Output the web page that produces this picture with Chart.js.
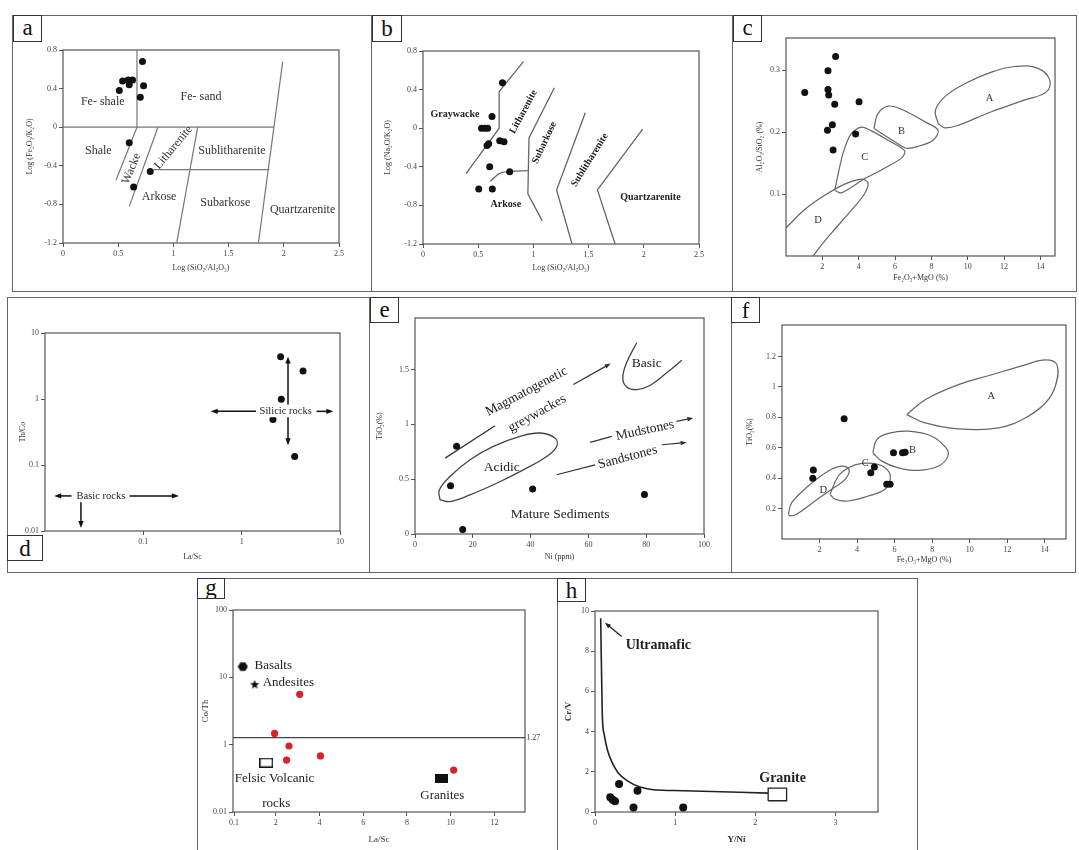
<!DOCTYPE html>
<html><head><meta charset="utf-8">
<script src="https://cdn.jsdelivr.net/npm/chart.js@4.4.0/dist/chart.umd.min.js"></script>
<style>
body{margin:0;background:#fff;width:1079px;height:850px;overflow:hidden;position:relative;font-family:'Liberation Serif',serif}
.frame{position:absolute;border:1.5px solid #666;box-sizing:border-box}
.tag{position:absolute;border:1.5px solid #333;background:#fff;box-sizing:border-box;font-size:23px;text-align:center;color:#111;overflow:hidden;z-index:5}
canvas{position:absolute;z-index:2}
</style></head><body>
<div class="frame" style="left:12px;top:15px;width:360px;height:277px"></div>
<div class="frame" style="left:371px;top:15px;width:362px;height:277px"></div>
<div class="frame" style="left:732px;top:15px;width:345px;height:277px"></div>
<div class="frame" style="left:7px;top:297px;width:363px;height:276px"></div>
<div class="frame" style="left:369px;top:297px;width:363px;height:276px"></div>
<div class="frame" style="left:731px;top:297px;width:345px;height:276px"></div>
<div class="frame" style="left:197px;top:578px;width:361px;height:282px"></div>
<div class="frame" style="left:557px;top:578px;width:361px;height:282px"></div>
<div class="tag" style="left:13px;top:15px;width:29px;height:27px;line-height:24px">a</div>
<div class="tag" style="left:372px;top:15px;width:30px;height:27px;line-height:26px">b</div>
<div class="tag" style="left:733px;top:15px;width:29px;height:27px;line-height:24px">c</div>
<div class="tag" style="left:7px;top:535px;width:36px;height:26px;line-height:25px">d</div>
<div class="tag" style="left:370px;top:297px;width:29px;height:26px;line-height:23px">e</div>
<div class="tag" style="left:731px;top:297px;width:29px;height:26px;line-height:25px">f</div>
<div class="tag" style="left:197px;top:578px;width:28px;height:21px;line-height:17px">g</div>
<div class="tag" style="left:557px;top:578px;width:29px;height:24px;line-height:23px">h</div>
<script>
// ---------------- DATA ----------------
// a: Log(SiO2/Al2O3) vs Log(Fe2O3/K2O)
const aSamples = [[0.72,0.68],[0.54,0.48],[0.59,0.49],[0.63,0.49],[0.60,0.44],[0.51,0.38],[0.73,0.43],[0.70,0.31],[0.60,-0.16],[0.79,-0.46],[0.64,-0.62]];
const aBoundaries = [
  [[0,0],[1.91,0]],
  [[0.67,0],[0.67,0.8]],
  [[0.67,0],[0.48,-0.55]],
  [[0.86,0],[0.60,-0.82]],
  [[1.22,0],[1.03,-1.2]],
  [[0.82,-0.44],[1.87,-0.44]],
  [[1.99,0.68],[1.77,-1.2]]
];
const aLabels = [["Fe- shale",0.36,0.26,0],["Fe- sand",1.25,0.31,0],["Shale",0.32,-0.25,0],["Wacke",0.62,-0.43,-68],["Litharenite",1.0,-0.21,-50],["Sublitharenite",1.53,-0.25,0],["Arkose",0.87,-0.72,0],["Subarkose",1.47,-0.78,0],["Quartzarenite",2.17,-0.86,0]];
const aXTicks = [0,0.5,1,1.5,2,2.5], aYTicks = [-1.2,-0.8,-0.4,0,0.4,0.8];

// b: Log(SiO2/Al2O3) vs Log(Na2O/K2O)
const bSamples = [[0.72,0.47],[0.625,0.12],[0.53,0],[0.56,0],[0.585,0],[0.595,-0.16],[0.58,-0.18],[0.695,-0.13],[0.734,-0.14],[0.604,-0.40],[0.785,-0.45],[0.505,-0.63],[0.628,-0.63]];
const bBoundaries = [
  [[0.39,-0.47],[0.69,0],[0.69,0.38],[0.91,0.69]],
  [[1.19,0.42],[0.96,-0.1],[0.95,-0.68],[1.08,-0.96]],
  [[1.47,0.16],[1.21,-0.64],[1.35,-1.2]],
  [[1.99,-0.01],[1.58,-0.64],[1.74,-1.2]]
];
const bArkoseCurve = [[0.61,-0.55],[0.69,-0.47],[0.77,-0.45],[0.95,-0.44]];
const bLabels = [["Graywacke",0.29,0.14,0],["Litharenite",0.91,0.17,-62],["Subarkose",1.1,-0.15,-65],["Sublitharenite",1.51,-0.33,-58],["Quartzarenite",2.06,-0.72,0],["Arkose",0.75,-0.79,0]];
const bXTicks = [0,0.5,1,1.5,2,2.5], bYTicks = [-1.2,-0.8,-0.4,0,0.4,0.8];

// c: Fe2O3+MgO vs Al2O3/SiO2
const cSamples = [[2.73,0.322],[2.31,0.299],[1.03,0.264],[2.31,0.269],[2.35,0.26],[2.68,0.245],[4.02,0.249],[2.55,0.212],[2.28,0.203],[3.83,0.197],[2.59,0.171]];
const cFieldA = [[8.37,0.214],[8.22,0.235],[8.73,0.257],[9.83,0.278],[11.3,0.297],[12.59,0.306],[13.87,0.303],[14.51,0.284],[14.33,0.265],[13.14,0.252],[11.3,0.233],[9.47,0.211],[8.73,0.207],[8.37,0.214]];
const cFieldB = [[4.84,0.206],[5.06,0.23],[5.61,0.242],[6.35,0.237],[7.63,0.217],[8.37,0.203],[8.09,0.187],[7.27,0.177],[6.62,0.174],[6.17,0.181],[4.84,0.206]];
const cFieldC = [[2.68,0.106],[3.14,0.166],[3.6,0.198],[4.15,0.208],[4.7,0.202],[5.61,0.187],[6.53,0.17],[6.35,0.158],[5.25,0.139],[4.33,0.125],[3.05,0.102],[2.68,0.106]];
const cFieldD = [[-0.62,0.028],[0.02,0.046],[1.03,0.075],[2.13,0.098],[3.23,0.116],[4.15,0.124],[4.51,0.118],[4.33,0.101],[3.6,0.074],[2.5,0.037],[1.67,0.007],[1.3,-0.01]];
const cLabels = [["A",11.2,0.254,0],["B",6.35,0.202,0],["C",4.33,0.159,0],["D",1.76,0.057,0]];
const cXTicks = [2,4,6,8,10,12,14], cYTicks = [0.1,0.2,0.3];

// d: La/Sc vs Th/Co (log-log)
const dSamples = [[2.49,4.37],[4.21,2.65],[2.53,0.99],[2.08,0.49],[3.46,0.134]];
const dArrows = [[2.96,0.65,2.96,4.4],[2.96,0.65,2.96,0.2],[1.4,0.65,0.485,0.65],[5.77,0.65,8.55,0.65],[0.0186,0.034,0.0124,0.034],[0.0724,0.034,0.23,0.034],[0.0232,0.0298,0.0232,0.0111]];
const dLabels = [["Silicic rocks",2.8,0.66,0],["Basic rocks",0.037,0.034,0]];
const dXTicks = [0.1,1,10], dYTicks = [0.01,0.1,1,10];

// e: Ni vs TiO2
const eSamples = [[14.4,0.80],[12.3,0.44],[40.7,0.41],[79.4,0.36],[16.5,0.04]];
const eAcidic = [[8.65,0.311],[8.42,0.402],[12.11,0.524],[19.03,0.677],[27.1,0.799],[36.33,0.89],[43.25,0.921],[48.44,0.875],[49.02,0.799],[45.56,0.707],[37.49,0.585],[28.26,0.463],[19.03,0.357],[12.11,0.296],[8.65,0.311]];
const eBasic = [[76.7,1.744],[73.2,1.561],[71.9,1.424],[73.2,1.341],[76.7,1.317],[81.3,1.354],[87.1,1.47],[92.3,1.585]];
const eSegments = [[10.4,0.692,27.7,0.988],[60.6,0.835,68.1,0.89],[49.0,0.54,62.3,0.631]];
const eArrows = [[54.8,1.363,67.7,1.555],[90.5,1.027,96.3,1.058],[85.4,0.814,94.0,0.835]];
const eLabels = [["Magmatogenetic",38.6,1.30,-28],["greywackes",42.3,1.10,-29],["Basic",80.2,1.555,0],["Mudstones",79.6,0.945,-12],["Sandstones",73.6,0.70,-15],["Acidic",30.0,0.61,0],["Mature Sediments",50.2,0.174,0]];
const eXTicks = [0,20,40,60,80,100], eYTicks = [0,0.5,1,1.5];

// f: Fe2O3+MgO vs TiO2
const fSamples = [[3.31,0.79],[1.67,0.453],[1.64,0.399],[5.94,0.567],[6.42,0.567],[6.56,0.571],[4.92,0.473],[4.73,0.436],[5.58,0.36],[5.76,0.36]];
const fFieldA = [[6.65,0.818],[7.63,0.916],[9.4,1.015],[11.18,1.08],[12.96,1.145],[14.03,1.178],[14.65,1.145],[14.56,1.004],[14.03,0.894],[12.96,0.796],[11.54,0.731],[9.4,0.724],[7.63,0.763],[6.65,0.818]];
const fFieldB = [[4.84,0.567],[5.05,0.654],[5.67,0.694],[6.74,0.709],[7.98,0.676],[8.73,0.6],[8.84,0.545],[8.34,0.48],[7.27,0.451],[6.2,0.468],[5.32,0.512],[4.84,0.567]];
const fFieldC = [[2.56,0.294],[3.0,0.414],[3.54,0.469],[4.25,0.497],[5.14,0.49],[5.67,0.447],[5.76,0.392],[5.49,0.327],[4.6,0.283],[3.54,0.25],[2.83,0.261],[2.56,0.294]];
const fFieldD = [[0.34,0.163],[0.52,0.239],[1.4,0.348],[2.47,0.447],[3.18,0.479],[3.57,0.457],[3.36,0.392],[2.65,0.327],[1.76,0.25],[0.78,0.163],[0.43,0.152],[0.34,0.163]];
const fLabels = [["A",11.15,0.938,0],["B",6.95,0.584,0],["C",4.43,0.497,0],["D",2.2,0.32,0]];
const fXTicks = [2,4,6,8,10,12,14], fYTicks = [0.2,0.4,0.6,0.8,1,1.2];

// g: La/Sc vs Co/Th
const gSamples = [[3.10,5.6],[1.95,1.47],[2.61,0.955],[4.05,0.68],[2.50,0.59],[10.14,0.42]];
const gBasalts = [[0.50,14.4]], gAndesites = [[1.04,7.9]], gFelsic = [[1.57,0.54]], gGranites = [[9.59,0.31]];
const gRefLine = [[0.05,1.27],[13.4,1.27]];
const gLabels = [["Basalts",1.89,15.2,0],["Andesites",2.58,8.4,0],["Felsic Volcanic",1.95,0.31,0],["rocks",2.03,0.134,0],["Granites",9.62,0.175,0]];
const gRefLabel = [["1.27",13.78,1.27,0]];
const gXTicks = [0.1,2,4,6,8,10,12], gYTicks = [0.1,1,10,100], gYTickLabels = ["0.01","1","10","100"];

// h: Y/Ni vs Cr/V
const hSamples = [[0.30,1.39],[0.53,1.06],[0.19,0.73],[0.22,0.61],[0.25,0.53],[0.48,0.23],[1.10,0.23]];
const hCurve = [[0.071,9.64],[0.091,4.83],[0.116,3.84],[0.154,3.10],[0.207,2.52],[0.29,1.94],[0.415,1.52],[0.56,1.24],[0.726,1.11],[1.10,1.06],[2.158,0.94]];
const hGranite = [[2.16,0.56],[2.39,0.56],[2.39,1.19],[2.16,1.19],[2.16,0.56]];
const hArrows = [[0.332,8.73,0.124,9.42]];
const hLabels = [["Ultramafic",0.79,8.31,0],["Granite",2.34,1.69,0]];
const hXTicks = [0,1,2,3], hYTicks = [0,2,4,6,8,10];

// ---------------- RENDERING ----------------
Chart.defaults.font.family = "'Liberation Serif','DejaVu Serif',serif";
Chart.defaults.color = '#444';

function drawArrow(ctx,x1,y1,x2,y2,head){
  const a=Math.atan2(y2-y1,x2-x1);
  let ex=x2, ey=y2;
  if(head){ ex=x2-head*0.8*Math.cos(a); ey=y2-head*0.8*Math.sin(a); }
  ctx.beginPath(); ctx.moveTo(x1,y1); ctx.lineTo(ex,ey); ctx.stroke();
  if(!head) return;
  const W=head*0.38;
  ctx.beginPath(); ctx.moveTo(x2,y2);
  ctx.lineTo(x2-head*Math.cos(a)+W*Math.sin(a), y2-head*Math.sin(a)-W*Math.cos(a));
  ctx.lineTo(x2-head*Math.cos(a)-W*Math.sin(a), y2-head*Math.sin(a)+W*Math.cos(a));
  ctx.closePath(); ctx.fill();
}

function makeAnnot(spec){
  return {
    id:'annot',
    beforeDatasetsDraw(chart){
      const {ctx, chartArea:a} = chart;
      ctx.save(); ctx.strokeStyle='#555'; ctx.lineWidth=1.2;
      ctx.strokeRect(a.left, a.top, a.right-a.left, a.bottom-a.top); ctx.restore();
    },
    afterDatasetsDraw(chart){
      const {ctx, scales:{x,y}} = chart;
      const px=v=>x.getPixelForValue(v), py=v=>y.getPixelForValue(v);
      ctx.save();
      const col = spec.arrowColor||'#222';
      ctx.strokeStyle=col; ctx.fillStyle=col; ctx.lineWidth=spec.arrowWidth||1.2;
      (spec.segments||[]).forEach(s=>drawArrow(ctx,px(s[0]),py(s[1]),px(s[2]),py(s[3]),0));
      (spec.arrows||[]).forEach(s=>drawArrow(ctx,px(s[0]),py(s[1]),px(s[2]),py(s[3]),spec.head||6));
      const drawLabels=(list,size,weight,color,bg)=>{
        ctx.font=`${weight} ${size}px 'Liberation Serif','DejaVu Serif',serif`;
        ctx.textAlign='center'; ctx.textBaseline='middle';
        list.forEach(l=>{
          ctx.save(); ctx.translate(px(l[1]),py(l[2])); ctx.rotate((l[3]||0)*Math.PI/180);
          if(bg){ const w=ctx.measureText(l[0]).width; ctx.fillStyle='#fff'; ctx.fillRect(-w/2-2,-size*0.6,w+4,size*1.2); }
          ctx.fillStyle=color; ctx.fillText(l[0],0,0); ctx.restore();
        });
      };
      if(spec.labels) drawLabels(spec.labels, spec.size||11, spec.weight||'normal', spec.color||'#222', spec.bg);
      if(spec.small) drawLabels(spec.small, 8, 'normal', '#444', false);
      ctx.restore();
    }
  };
}

function axis(s,size,horiz){
  return {
    type:s.type||'linear', min:s.min, max:s.max, position:horiz?'bottom':'left',
    afterFit(sc){ if(horiz) sc.height=size; else sc.width=size; },
    afterBuildTicks(sc){ sc.ticks=s.ticks.map(v=>({value:v})); },
    ticks:{autoSkip:false,maxRotation:0,padding:2,color:'#444',font:{size:8},
      callback:(v,i)=> s.labels ? s.labels[i] : String(+(+v).toFixed(3))},
    grid:{display:true,drawOnChartArea:false,drawTicks:true,tickLength:4,color:'#555',lineWidth:1},
    border:{display:false},
    title:{display:true,text:s.title,padding:0,color:'#333',font:{size:s.titleSize||8,weight:s.titleWeight||'normal'}}
  };
}

const toXY = arr => arr.map(p=>({x:p[0],y:p[1]}));
const pts = (arr,color,r) => ({data:toXY(arr),pointRadius:r||3.5,backgroundColor:color||'#111',borderWidth:0,pointHoverRadius:0});
const line = (arr,color,w,tension,mono) => ({data:toXY(arr),showLine:true,pointRadius:0,pointHoverRadius:0,borderColor:color,borderWidth:w,tension:tension||0,fill:false,cubicInterpolationMode:mono?'monotone':'default'});
const imgPts = (arr,img) => ({data:toXY(arr),pointStyle:img,pointRadius:5,borderWidth:0,pointHoverRadius:0});

function panel(g,sx,sy,datasets,spec){
  const cv=document.createElement('canvas');
  cv.width=g[2]; cv.height=g[3]; cv.style.left=g[0]+'px'; cv.style.top=g[1]+'px';
  document.body.appendChild(cv);
  new Chart(cv,{type:'scatter',data:{datasets},
    options:{responsive:false,animation:false,events:[],
      layout:{padding:{left:g[4],top:g[5],right:g[6],bottom:g[7]}},
      plugins:{legend:{display:false},tooltip:{enabled:false}},
      scales:{x:axis(sx,g[9],true),y:axis(sy,g[8],false)}},
    plugins:[makeAnnot(spec)]});
}

// marker images for panel g
function mk(w,h,fn){const c=document.createElement('canvas');c.width=w;c.height=h;fn(c.getContext('2d'),w,h);return c;}
const hexImg = mk(11,11,(x,w,h)=>{x.fillStyle='#111';x.beginPath();for(let i=0;i<6;i++){const a=i*Math.PI/3;x.lineTo(w/2+5*Math.cos(a),h/2+5*Math.sin(a));}x.closePath();x.fill();});
const starImg = mk(10,10,(x,w,h)=>{x.fillStyle='#111';x.beginPath();for(let i=0;i<10;i++){const r=i%2?2.1:4.8;const a=-Math.PI/2+i*Math.PI/5;x.lineTo(w/2+r*Math.cos(a),h/2+0.5+r*Math.sin(a));}x.closePath();x.fill();});
const openRect = mk(14,10,(x,w,h)=>{x.strokeStyle='#111';x.lineWidth=1.4;x.strokeRect(0.7,0.7,w-1.4,h-1.4);});
const fullRect = mk(13,9,(x,w,h)=>{x.fillStyle='#111';x.fillRect(0,0,w,h);});

const GL='#666', GD='#444';
// a
panel([12,15,359,276,13,35,32,18,38,30],
  {min:0,max:2.5,ticks:aXTicks,title:'Log (SiO\u2082/Al\u2082O\u2083)'},
  {min:-1.2,max:0.8,ticks:aYTicks,title:'Log (Fe\u2082O\u2083/K\u2082O)'},
  [pts(aSamples), ...aBoundaries.map(b=>line(b,'#777',1.2))],
  {labels:aLabels,size:12,color:'#333'});
// b
panel([371,15,361,276,12,36,33,18,40,29],
  {min:0,max:2.5,ticks:bXTicks,title:'Log (SiO\u2082/Al\u2082O\u2083)'},
  {min:-1.2,max:0.8,ticks:bYTicks,title:'Log (Na\u2082O/K\u2082O)'},
  [pts(bSamples), ...bBoundaries.map(b=>line(b,GL,1.3)), line(bArkoseCurve,GL,1.3,0.3)],
  {labels:bLabels,size:10,weight:'bold',color:'#222'});
// c
panel([732,15,344,276,23,23,21,8,31,27],
  {min:0,max:14.8,ticks:cXTicks,title:'Fe\u2082O\u2083+MgO (%)'},
  {min:0,max:0.352,ticks:cYTicks,title:'Al\u2082O\u2083/SiO\u2082 (%)'},
  [pts(cSamples), line(cFieldA,GL,1.2,0.4), line(cFieldB,GL,1.2,0.35), line(cFieldC,GL,1.2,0.3), line(cFieldD,GL,1.2,0.35)],
  {labels:cLabels,size:10.5,color:'#333'});
// d
panel([7,297,362,275,11,36,29,10,27,31],
  {type:'logarithmic',min:0.01,max:10,ticks:dXTicks,title:'La/Sc'},
  {type:'logarithmic',min:0.01,max:10,ticks:dYTicks,title:'Th/Co'},
  [pts(dSamples)],
  {arrows:dArrows,head:7,arrowWidth:1.5,arrowColor:'#111',labels:dLabels,size:10.5,color:'#222',bg:true});
// e
panel([369,297,362,275,6,21,27,10,40,28],
  {min:0,max:100,ticks:eXTicks,title:'Ni (ppm)'},
  {min:0,max:1.97,ticks:eYTicks,title:'TiO\u2082(%)'},
  [pts(eSamples), line(eAcidic,GD,1.3,0.4), line(eBasic,GD,1.3,0.4)],
  {segments:eSegments,arrows:eArrows,head:6,arrowWidth:1.2,arrowColor:'#333',labels:eLabels,size:13.5,color:'#222'});
// f
panel([731,297,344,275,14,28,9,7,37,26],
  {min:0,max:15.13,ticks:fXTicks,title:'Fe\u2082O\u2083+MgO (%)'},
  {min:0,max:1.407,ticks:fYTicks,title:'TiO\u2082(%)'},
  [pts(fSamples), line(fFieldA,GL,1.2,0.4), line(fFieldB,GL,1.2,0.4), line(fFieldC,GL,1.2,0.4), line(fFieldD,GL,1.2,0.4)],
  {labels:fLabels,size:10.5,color:'#333'});
// g
panel([197,578,360,272,3,32,32,5,33,33],
  {min:0.05,max:13.4,ticks:gXTicks,title:'La/Sc',titleSize:9},
  {type:'logarithmic',min:0.1,max:100,ticks:gYTicks,labels:gYTickLabels,title:'Co/Th',titleSize:9},
  [pts(gSamples,'#d8232a',3.6), imgPts(gBasalts,hexImg), imgPts(gAndesites,starImg), imgPts(gFelsic,openRect), imgPts(gGranites,fullRect), line(gRefLine,'#444',1.3)],
  {labels:gLabels,size:13,color:'#222',small:gRefLabel});
// h
panel([557,578,360,272,6,33,39,5,32,33],
  {min:0,max:3.53,ticks:hXTicks,title:'Y/Ni',titleSize:9,titleWeight:'bold'},
  {min:0,max:10,ticks:hYTicks,title:'Cr/V',titleSize:9,titleWeight:'bold'},
  [pts(hSamples,'#111',4), line(hCurve,'#222',1.6,0.4,true), line(hGranite,'#222',1.3)],
  {arrows:hArrows,head:6,arrowWidth:1.3,arrowColor:'#222',labels:hLabels,size:14,weight:'bold',color:'#222'});
</script>
</body></html>
